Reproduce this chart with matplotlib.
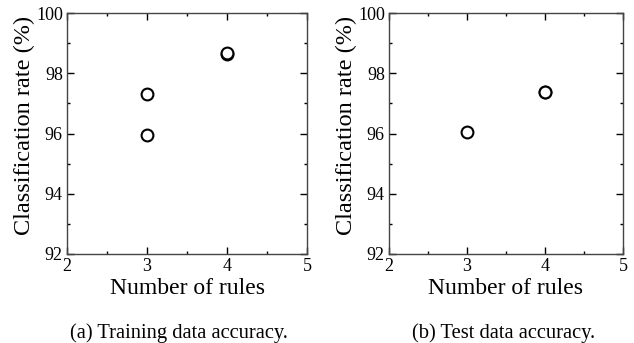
import matplotlib
matplotlib.use("Agg")
import matplotlib.pyplot as plt
from matplotlib.ticker import MultipleLocator

plt.rcParams['font.family'] = ['Liberation Serif', 'DejaVu Serif']
plt.rcParams['mathtext.fontset'] = 'stix'

# Training data accuracy
train_rules = [3, 3, 4, 4]
train_rate = [97.3, 95.95, 98.65, 98.67]

# Test data accuracy
test_rules = [3, 4, 4]
test_rate = [96.05, 97.37, 97.39]

x_ticks = [2, 3, 4, 5]
y_ticks = [92, 94, 96, 98, 100]

captions = ['(a) Training data accuracy.', '(b) Test data accuracy.']

fig = plt.figure(figsize=(6.34, 3.43), dpi=100)
ax1 = fig.add_axes([67 / 634, 1 - 254 / 343, 240 / 634, 241 / 343])
ax2 = fig.add_axes([389 / 634, 1 - 254 / 343, 234 / 634, 241 / 343])

panels = [(ax1, train_rules, train_rate, captions[0], 178.5 / 634),
          (ax2, test_rules, test_rate, captions[1], 503.5 / 634)]

for ax, xs, ys, cap, cap_x in panels:
    ax.plot(xs, ys, linestyle='none', marker='o', markersize=8.5,
            markerfacecolor='white', markeredgecolor='black', markeredgewidth=1.5)
    ax.set_xlim(2, 5)
    ax.set_ylim(92, 100)
    ax.set_xticks(x_ticks)
    ax.set_yticks(y_ticks)
    ax.xaxis.set_minor_locator(MultipleLocator(0.5))
    ax.yaxis.set_minor_locator(MultipleLocator(1))
    ax.tick_params(which='both', direction='in', top=True, right=True,
                   labelsize=13, pad=3)
    ax.tick_params(which='major', length=5, width=1)
    ax.tick_params(which='minor', length=2.5, width=1)
    for s in ax.spines.values():
        s.set_linewidth(1.0)
        s.set_color('#444444')
    ax.set_xlabel('Number of rules', fontsize=17, labelpad=2)
    ax.set_ylabel('Classification rate (%)', fontsize=17.5, labelpad=1)
    ax.yaxis.label.set_y(0.535)
    # caption under each panel
    fig.text(cap_x, 1 - 338 / 343, cap, ha='center', va='baseline', fontsize=14.8)

fig.savefig('out.png', dpi=100)
